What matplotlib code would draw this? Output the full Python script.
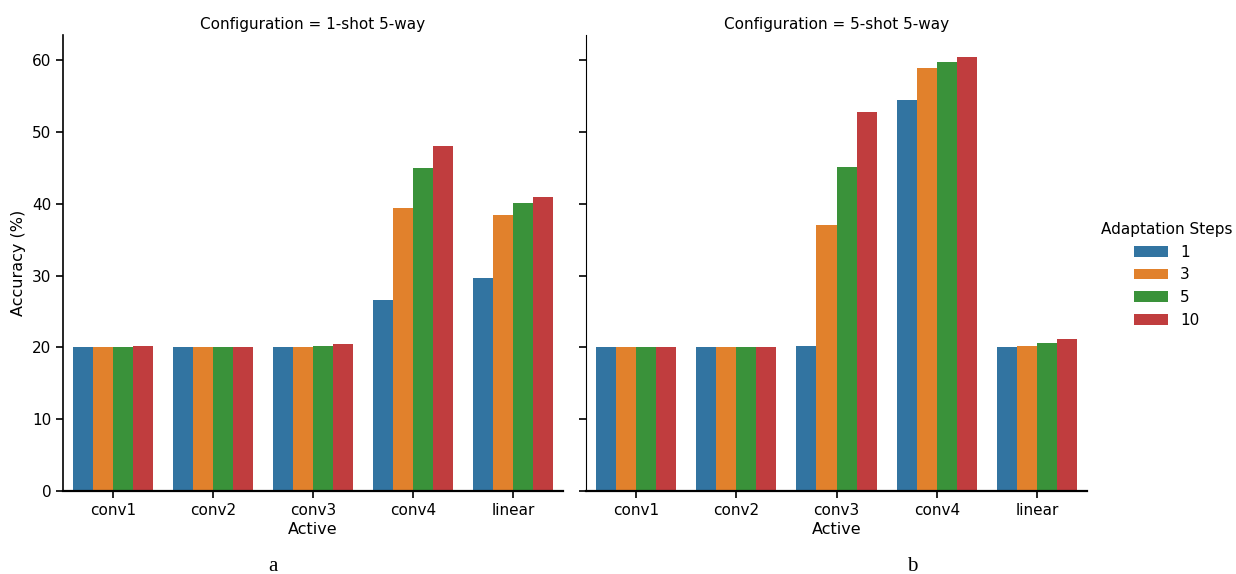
import numpy as np
import matplotlib.pyplot as plt

# accuracy per layer, grouped by number of adaptation steps
layers = ['conv1', 'conv2', 'conv3', 'conv4', 'linear']
steps = ['1', '3', '5', '10']
colors = ['#3274a1', '#e1812c', '#3a923a', '#c03d3e']

acc_1shot = {
    '1':  [20.0, 20.0, 20.0, 26.6, 29.7],
    '3':  [20.0, 20.0, 20.1, 39.4, 38.4],
    '5':  [20.0, 20.0, 20.2, 45.0, 40.1],
    '10': [20.2, 20.0, 20.5, 48.0, 41.0],
}
acc_5shot = {
    '1':  [20.0, 20.0, 20.2, 54.5, 20.0],
    '3':  [20.0, 20.0, 37.1, 58.9, 20.2],
    '5':  [20.0, 20.0, 45.1, 59.8, 20.6],
    '10': [20.0, 20.0, 52.8, 60.4, 21.1],
}

W, H = 1236, 574
fig = plt.figure(figsize=(W / 100, H / 100), dpi=100)
bottom = (H - 491) / H
height = (491 - 35) / H
ax1 = fig.add_axes([63 / W, bottom, 500 / W, height])
ax2 = fig.add_axes([586 / W, bottom, 501 / W, height])

x = np.arange(len(layers))
bw = 0.2
handles = []
for ax, data, title in [(ax1, acc_1shot, 'Configuration = 1-shot 5-way'),
                        (ax2, acc_5shot, 'Configuration = 5-shot 5-way')]:
    for i, s in enumerate(steps):
        b = ax.bar(x + (i - 1.5) * bw, data[s], width=bw, color=colors[i],
                   linewidth=0, label=s)
        if ax is ax1:
            handles.append(b)
    ax.set_xlim(-0.5, 4.5)
    ax.set_ylim(0, 63.5)
    ax.set_xticks(x)
    ax.set_xticklabels(layers, fontsize=11)
    ax.set_yticks(range(0, 61, 10))
    ax.tick_params(axis='both', length=5, width=1.2, labelsize=11, colors='black')
    ax.spines['top'].set_visible(False)
    ax.spines['right'].set_visible(False)
    ax.spines['left'].set_linewidth(1.2)
    ax.spines['bottom'].set_linewidth(1.6)
    ax.set_xlabel('Active', fontsize=11.5, labelpad=3)
    ax.set_title(title, fontsize=11, pad=4)

ax1.set_ylabel('Accuracy (%)', fontsize=11.5)
ax2.tick_params(axis='y', labelleft=False)
ax2.spines['left'].set_linewidth(0.8)

leg = fig.legend(handles, steps, title='Adaptation Steps', loc='upper left',
                 bbox_to_anchor=(1095 / W, (H - 216) / H), frameon=False,
                 fontsize=11, title_fontsize=11, handlelength=2.2,
                 handleheight=0.7, labelspacing=0.5, borderaxespad=0)

fig.text(273 / W, (H - 571) / H, 'a', family='Liberation Serif', fontsize=15,
         ha='center', va='baseline')
fig.text(912 / W, (H - 571) / H, 'b', family='Liberation Serif', fontsize=15,
         ha='center', va='baseline')

fig.savefig('out.png', dpi=100)
